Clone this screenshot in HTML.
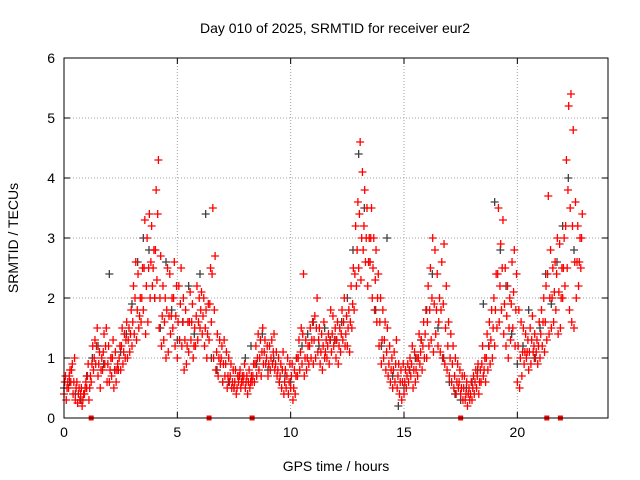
<!DOCTYPE html>
<html><head><meta charset="utf-8"><style>
html,body{margin:0;padding:0;background:#fff;}
svg{display:block;font-family:"Liberation Sans",sans-serif;}
</style></head><body>
<svg id="chart" width="640" height="480" xmlns="http://www.w3.org/2000/svg">
<rect width="640" height="480" fill="#fff"/>
<text x="335" y="33" font-size="14" text-anchor="middle">Day 010 of 2025, SRMTID for receiver eur2</text>
<text x="336" y="471" font-size="14" text-anchor="middle">GPS time / hours</text>
<text x="0" y="0" font-size="14" text-anchor="middle" transform="translate(18,238) rotate(-90)">SRMTID / TECUs</text>
<g id="grid"></g>
<g id="ticks"></g>
<g id="grey"></g>
<g id="red"></g>
<rect x="64" y="58" width="544" height="360" fill="none" stroke="#000" stroke-width="1"/>
</svg>
<script>
const xTicks = [0,5,10,15,20];
const yTicks = [0,1,2,3,4,5,6];
const redStart = 0, redStep = 0.1;
const redA = [.4,.3,.5,.6,.4,.3,.25,.3,.2,.4, .5,.3,.6,.8,.9,.7,.5,.8,.9,.6, .6,.7,.5,.6,.8,.8,.9,1.0,1.0,1.1,
1.2,1.4,1.3,1.5,1.6,1.8,1.4,1.6,2.0,2.2, 2.0,2.3,1.5,1.2,1.3,1.0,1.1,1.4,1.5,1.2, 1.0,1.3,1.2,.8,.9,1.1,1.3,1.0,1.2,1.3,
1.5,1.4,1.2,1.0,1.3,1.6,1.0,.8,.7,.9, .6,.7,.5,.6,.5,.5,.4,.6,.5,.6, .5,.4,.5,.6,.6,.7,.8,.7,.9,.9,
.7,.8,.9,.8,.7,.6,.5,.4,.5,.4, .5,.3,.4,.7,.8,.9,.7,.8,.9,1.0, .9,1.0,1.1,.9,.8,1.0,1.0,.9,1.1,1.2,
1.0,.9,1.1,1.3,1.2,1.2,1.1,1.5,1.8,2.2, 2.5,2.3,2.8,2.6,2.2,2.6,2.0,1.8,1.6,1.2, .9,1.0,.8,.7,.6,.5,.6,.5,.4,.3,
.4,.5,.6,.7,.5,.6,.7,.9,.8,1.0, 1.0,1.2,1.3,1.1,1.4,1.2,1.1,1.0,.9,.8, .7,.6,.5,.4,.5,.4,.3,.3,.2,.3,
.3,.4,.5,.4,.6,.7,.6,.8,.9,1.0, 1.2,1.5,1.6,1.8,1.4,1.2,1.0,1.3,1.5,1.2, .6,.5,.7,.9,1.0,.8,.9,1.1,1.0,.9,
1.0,1.2,1.1,1.3,1.4,1.5,1.6,1.8,1.4,1.5, 2.0,2.2,2.5,1.8,1.6,1.5,2.0,2.2,2.5];
const redB = [.7,.6,.8,.9,1.0,.6,.5,.5,.4,.6, .9,.7,1.2,1.3,1.5,1.1,1.0,1.4,1.5,1.2, 1.0,1.3,1.1,.9,1.2,1.5,1.4,1.6,1.5,1.8,
2.2,2.6,2.4,2.0,2.5,3.3,3.0,3.4,3.2,2.8, 3.8,4.3,2.7,2.2,2.0,2.5,2.4,2.0,2.6,2.2, 2.2,2.5,2.0,1.8,1.6,2.1,1.9,1.5,2.2,2.0,
2.1,2.0,1.8,1.9,2.5,3.5,2.7,1.4,1.3,1.2, 1.3,1.1,1.0,.9,.8,.8,.7,.8,.7,.9, .7,.8,.7,.9,1.2,1.4,1.3,1.5,1.3,1.2,
1.2,1.3,1.4,1.1,1.0,.9,1.1,.8,1.0,.9, .9,.8,1.0,1.3,1.5,2.4,1.3,1.2,1.5,1.6, 1.7,2.0,1.5,1.4,1.6,1.3,1.4,1.8,1.7,1.5,
1.6,1.5,1.8,2.0,1.7,1.8,2.2,2.5,3.2,3.6, 4.6,4.1,3.8,3.5,3.0,3.5,3.0,2.8,2.4,2.0, 1.8,1.6,1.5,1.2,1.0,1.1,1.3,.9,.8,.9,
.8,.9,1.0,1.2,1.1,1.0,1.4,1.3,1.6,1.8, 2.2,2.5,3.0,2.8,2.4,2.0,2.6,2.9,2.2,1.6, 1.4,1.2,1.0,.9,.8,.7,.7,.6,.5,.6,
.7,.8,.9,.8,1.2,1.0,1.4,1.6,1.8,2.0, 2.4,3.5,2.9,3.3,2.5,2.2,2.0,2.6,2.8,2.4, 1.8,1.6,1.5,1.4,1.3,1.5,1.7,1.4,1.3,1.6,
1.8,2.0,2.2,3.7,2.8,2.5,2.6,3.0,2.9,2.5, 3.0,4.3,5.2,5.4,4.8,3.6,3.2,3.0,3.4];
const redM = [.6,.5,.7,.8,.6,.5,.4,.4,.3,.5, .7,.5,.9,1.0,1.2,.9,.8,1.1,1.2,.9, .8,1.0,.8,.8,1.0,1.2,1.1,1.3,1.3,1.4,
1.6,2.0,1.8,1.7,2.0,2.5,2.2,2.5,2.6,2.5, 2.8,3.4,2.0,1.7,1.6,1.8,1.7,1.7,2.0,1.7, 1.6,1.9,1.6,1.3,1.2,1.6,1.6,1.2,1.7,1.6,
1.8,1.7,1.5,1.4,1.9,2.4,1.8,1.1,1.0,1.0, .9,.9,.7,.7,.6,.6,.5,.7,.6,.7, .6,.6,.6,.7,.9,1.0,1.0,1.1,1.1,1.0,
.9,1.0,1.1,.9,.8,.7,.8,.6,.7,.6, .7,.5,.7,1.0,1.1,1.4,1.0,1.0,1.2,1.3, 1.3,1.5,1.3,1.1,1.2,1.1,1.2,1.3,1.4,1.3,
1.3,1.2,1.4,1.6,1.4,1.5,1.6,1.9,2.4,2.8, 3.4,3.0,3.2,3.0,2.6,3.0,2.5,2.3,2.0,1.6, 1.3,1.3,1.1,.9,.8,.8,.9,.7,.6,.6,
.6,.7,.8,.9,.8,.8,1.0,1.1,1.2,1.4, 1.6,1.8,2.0,1.9,1.8,1.6,1.8,1.9,1.5,1.2, 1.0,.9,.7,.6,.6,.5,.5,.4,.4,.4,
.5,.6,.7,.6,.9,.8,1.0,1.2,1.3,1.5, 1.8,2.4,2.2,2.5,1.9,1.7,1.5,1.9,2.1,1.8, 1.2,1.0,1.1,1.1,1.1,1.1,1.3,1.2,1.1,1.2,
1.4,1.6,1.6,2.4,2.0,2.0,2.1,2.4,2.1,2.0, 2.5,3.2,3.8,3.5,3.2,2.6,2.6,2.6,3.0];
const greyStart = 0, greyStep = 0.25;
const greyV = [.5,.6,.4,.3,.7,1.0,1.2,.9, 2.4,.8,1.1,1.4,1.9,2.6,3.0,2.8, 2.0,1.5,2.6,1.8,1.3,1.6,2.2,1.4,
2.4,3.4,1.0,.8,.6,.6,.5,.7, 1.0,1.2,.9,1.4,.8,1.0,.6,.7, .6,1.0,1.2,1.4,1.6,1.2,1.5,1.3,
1.3,1.6,2.0,2.8,4.4,3.5,2.6,1.8, 1.2,3.0,.7,.2,.5,.8,1.0,1.3, 1.8,2.4,1.5,1.0,.6,.4,.3,.5,
.6,.8,1.9,1.2,3.6,2.8,2.2,1.4, .9,1.2,1.8,1.0,1.5,2.4,1.9,2.6, 3.2,4.0,2.8];
const zeroHours = [1.2,6.4,8.3,17.5,21.3,21.9];

const NS='http://www.w3.org/2000/svg';
const X0=64,X1=608,Y0=418,Y1=58,XMAX=24,YMAX=6;
const sx=h=>X0+(X1-X0)*h/XMAX;
const sy=v=>Y0-(Y0-Y1)*v/YMAX;
function mk(tag,attrs,parent){const e=document.createElementNS(NS,tag);for(const k in attrs)e.setAttribute(k,attrs[k]);parent.appendChild(e);return e;}
const grid=document.getElementById('grid'),ticks=document.getElementById('ticks');
xTicks.forEach(t=>{
  if(t>0){const l=mk('line',{x1:sx(t),x2:sx(t),y1:Y0,y2:Y1,stroke:'#a0a0a0','stroke-dasharray':'1,2'},grid);
  
  }
  mk('line',{x1:sx(t),x2:sx(t),y1:Y0,y2:Y0-6,stroke:'#000'},ticks);
  mk('line',{x1:sx(t),x2:sx(t),y1:Y1,y2:Y1+6,stroke:'#000'},ticks);
  const tx=mk('text',{x:sx(t),y:Y0+19,'font-size':14,'text-anchor':'middle'},ticks);
  tx.textContent=t;
  
  
});
yTicks.forEach(t=>{
  if(t>0&&t<YMAX){const l=mk('line',{x1:X0,x2:X1,y1:sy(t),y2:sy(t),stroke:'#a0a0a0','stroke-dasharray':'1,2'},grid);
  
  }
  mk('line',{x1:X0,x2:X0+6,y1:sy(t),y2:sy(t),stroke:'#000'},ticks);
  mk('line',{x1:X1,x2:X1-6,y1:sy(t),y2:sy(t),stroke:'#000'},ticks);
  const tx=mk('text',{x:X0-9,y:sy(t)+5,'font-size':14,'text-anchor':'end'},ticks);
  tx.textContent=t;
  
  
});
function plus(g,h,v,color){
  const x=sx(h),y=sy(v);
  const p=mk('path',{d:`M${x-4},${y}H${x+4}M${x},${y-4}V${y+4}`,stroke:color,'stroke-width':1.3,fill:'none'},g);
  
  
}
const gg=document.getElementById('grey'),rg=document.getElementById('red');
greyV.forEach((v,i)=>plus(gg,greyStart+i*greyStep,v,'#404040'));
redA.forEach((v,i)=>plus(rg,redStart+i*redStep,v,'#ff0000'));
redM.forEach((v,i)=>plus(rg,redStart+i*redStep+0.033,v,'#ff0000'));
redB.forEach((v,i)=>plus(rg,redStart+i*redStep+0.066,v,'#ff0000'));
zeroHours.forEach(h=>{
  const r=mk('rect',{x:sx(h)-2.5,y:Y0-2.5,width:5,height:5,fill:'#ff0000'},rg);
  
  
});
</script>
</body></html>
